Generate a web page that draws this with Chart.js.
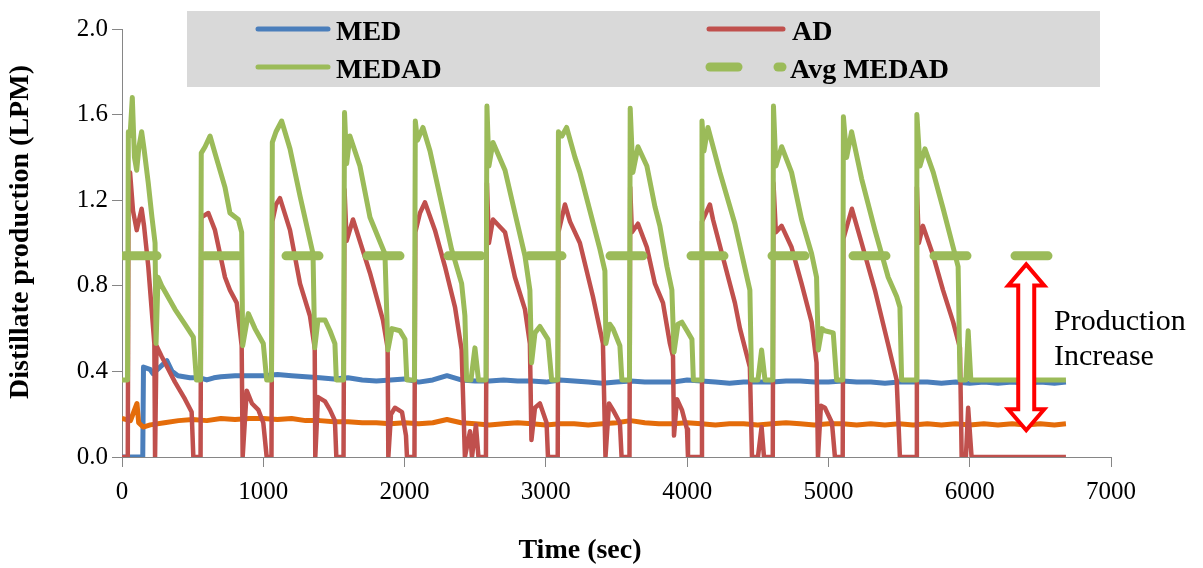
<!DOCTYPE html>
<html>
<head>
<meta charset="utf-8">
<script src="https://cdn.jsdelivr.net/npm/chart.js@4.4.1/dist/chart.umd.min.js"></script>
<style>
  body { margin: 0; background: #fff; }
  canvas { display: block; }
</style>
</head>
<body>
<canvas id="prodChart" width="1203" height="568"></canvas>
<script>
// time (sec), distillate (LPM) pairs
const medPts = [
  [0,0],[147,0],[152,0.42],[198,0.41],[219,0.39],[269,0.42],[318,0.45],[354,0.40],[396,0.38],[481,0.37],[552,0.37],
  [600,0.36],[650,0.37],[700,0.375],[800,0.38],[900,0.38],[1000,0.38],[1100,0.385],[1200,0.38],[1300,0.375],[1400,0.37],
  [1500,0.365],[1600,0.37],[1700,0.36],[1800,0.355],[1900,0.36],[2000,0.365],[2100,0.35],[2200,0.36],[2300,0.38],[2400,0.36],
  [2500,0.355],[2600,0.355],[2700,0.36],[2800,0.355],[2900,0.355],[3000,0.35],[3100,0.36],[3200,0.355],[3300,0.35],[3400,0.345],
  [3500,0.35],[3600,0.355],[3700,0.35],[3800,0.35],[3900,0.35],[4000,0.36],[4100,0.355],[4200,0.35],[4300,0.345],[4400,0.35],
  [4500,0.35],[4600,0.35],[4700,0.355],[4800,0.355],[4900,0.35],[5000,0.35],[5100,0.355],[5200,0.35],[5300,0.35],[5400,0.345],
  [5500,0.35],[5600,0.35],[5700,0.35],[5800,0.345],[5900,0.35],[6000,0.345],[6100,0.35],[6200,0.345],[6300,0.35],[6400,0.345],
  [6500,0.35],[6600,0.345],[6681,0.35]
];

const adPts = [
  [0,0],[41,0],[46,1.20],[57,1.33],[78,1.15],[104,1.06],[139,1.16],[156,1.08],[186,0.89],[229,0.53],[234,0],[244,0.52],[281,0.47],[375,0.35],[446,0.27],[493,0.21],[505,0],[556,0],
  [561,1.12],[611,1.14],[658,1.06],[729,0.84],[764,0.78],[812,0.72],[847,0.52],[854,0],[883,0.31],[920,0.25],[965,0.22],[1000,0.16],[1024,0],[1058,0],
  [1064,1.10],[1090,1.18],[1118,1.21],[1189,1.06],[1260,0.81],[1330,0.66],[1364,0.51],[1368,0],[1387,0.28],[1437,0.26],[1472,0.22],[1507,0.17],[1517,0],[1568,0],
  [1575,1.25],[1590,1.01],[1635,1.11],[1755,0.86],[1847,0.64],[1880,0.51],[1885,0],[1904,0.20],[1932,0.23],[1982,0.21],[2010,0.10],[2017,0],[2070,0],
  [2076,1.05],[2109,1.14],[2144,1.19],[2215,1.06],[2286,0.89],[2357,0.70],[2404,0.50],[2427,0],[2463,0.12],[2477,0],[2505,0.15],[2523,0],[2576,0],
  [2583,1.28],[2597,1.00],[2626,1.11],[2711,1.05],[2781,0.84],[2852,0.69],[2887,0.53],[2898,0.08],[2923,0.23],[2958,0.25],[3005,0.16],[3015,0],[3084,0],
  [3089,1.05],[3135,1.18],[3171,1.10],[3241,1.00],[3333,0.75],[3404,0.53],[3422,0],[3447,0.25],[3475,0.22],[3524,0.16],[3536,0],[3592,0],
  [3597,1.26],[3609,1.05],[3652,1.09],[3715,0.98],[3772,0.81],[3829,0.72],[3878,0.53],[3900,0.47],[3907,0.10],[3928,0.27],[3963,0.22],[3999,0.13],[4006,0],[4099,0],
  [4105,1.10],[4161,1.18],[4183,1.11],[4338,0.72],[4374,0.60],[4444,0.42],[4459,0],[4501,0],[4527,0.14],[4544,0],[4606,0],
  [4611,1.28],[4628,1.05],[4669,1.08],[4739,0.98],[4810,0.81],[4881,0.63],[4916,0.44],[4926,0],[4947,0.24],[4975,0.23],[5025,0.16],[5046,0],[5101,0],
  [5106,1.02],[5166,1.16],[5235,1.00],[5329,0.78],[5421,0.53],[5483,0.36],[5506,0],[5620,0],
  [5626,1.26],[5640,1.00],[5669,1.08],[5742,0.94],[5811,0.78],[5883,0.63],[5931,0.51],[5943,0],[5973,0],[5989,0.23],[6013,0],[6681,0]
];

const medadPts = [
  [0,0.36],[39,0.36],[45,1.52],[57,1.50],[73,1.68],[88,1.40],[104,1.34],[120,1.45],[139,1.52],[156,1.44],[186,1.28],[212,1.12],[234,1.00],[241,0.53],[255,0.84],[281,0.80],[375,0.69],[446,0.62],[505,0.56],[527,0.36],
  [556,0.36],[561,1.42],[588,1.45],[623,1.50],[658,1.42],[729,1.26],[764,1.14],[823,1.11],[847,1.05],[854,0.52],[894,0.67],[941,0.60],[1000,0.53],[1024,0.36],
  [1058,0.36],[1064,1.47],[1090,1.52],[1130,1.57],[1189,1.44],[1260,1.22],[1352,0.95],[1364,0.51],[1387,0.64],[1437,0.64],[1472,0.59],[1507,0.53],[1517,0.36],
  [1568,0.36],[1575,1.61],[1590,1.37],[1613,1.50],[1684,1.36],[1755,1.12],[1861,0.95],[1882,0.50],[1911,0.60],[1967,0.59],[2003,0.55],[2016,0.36],
  [2070,0.36],[2076,1.57],[2091,1.48],[2130,1.54],[2180,1.43],[2250,1.22],[2333,0.97],[2404,0.81],[2427,0.66],[2439,0.36],[2470,0.36],[2498,0.51],[2523,0.36],
  [2576,0.36],[2583,1.64],[2597,1.36],[2626,1.47],[2711,1.34],[2781,1.14],[2852,0.94],[2887,0.78],[2899,0.44],[2923,0.58],[2958,0.61],[3015,0.55],[3041,0.36],
  [3084,0.36],[3089,1.52],[3114,1.50],[3147,1.54],[3206,1.40],[3241,1.33],[3312,1.15],[3383,0.97],[3418,0.87],[3425,0.53],[3453,0.62],[3475,0.60],[3524,0.52],[3538,0.36],
  [3592,0.36],[3597,1.63],[3616,1.33],[3652,1.45],[3715,1.36],[3772,1.17],[3807,1.08],[3857,0.89],[3892,0.78],[3907,0.49],[3935,0.62],[3963,0.63],[3999,0.59],[4034,0.55],[4044,0.36],
  [4099,0.36],[4105,1.57],[4119,1.43],[4147,1.54],[4232,1.33],[4338,1.09],[4444,0.78],[4456,0.36],[4501,0.36],[4527,0.50],[4551,0.36],
  [4606,0.36],[4611,1.64],[4628,1.36],[4669,1.45],[4739,1.33],[4810,1.11],[4881,0.95],[4916,0.84],[4928,0.50],[4954,0.60],[4975,0.59],[5034,0.58],[5058,0.36],
  [5101,0.36],[5106,1.59],[5129,1.40],[5164,1.52],[5235,1.30],[5329,1.06],[5423,0.84],[5483,0.75],[5506,0.70],[5518,0.36],
  [5620,0.36],[5626,1.60],[5648,1.36],[5683,1.44],[5742,1.33],[5812,1.16],[5883,0.98],[5918,0.89],[5931,0.36],[5973,0.36],[5989,0.59],[6008,0.36],[6681,0.36]
];

const avgMedadPts = [[0,0.94],[6681,0.94]];

// unlabelled orange trace (not in the legend)
const otherPts = [
  [0,0.18],[60,0.17],[106,0.25],[118,0.16],[150,0.14],[200,0.15],[300,0.16],[400,0.17],[500,0.175],[600,0.17],
  [700,0.18],[800,0.175],[900,0.18],[1000,0.18],[1100,0.175],[1200,0.18],[1300,0.17],[1400,0.17],[1500,0.165],[1600,0.165],
  [1700,0.16],[1800,0.16],[1900,0.155],[2000,0.16],[2100,0.155],[2200,0.16],[2300,0.175],[2400,0.16],[2500,0.155],[2600,0.15],
  [2700,0.155],[2800,0.16],[2900,0.155],[3000,0.15],[3100,0.155],[3200,0.155],[3300,0.15],[3400,0.155],[3500,0.16],[3600,0.17],
  [3700,0.16],[3800,0.155],[3900,0.155],[4000,0.16],[4100,0.155],[4200,0.15],[4300,0.155],[4400,0.155],[4500,0.15],[4600,0.155],
  [4700,0.16],[4800,0.155],[4900,0.15],[5000,0.155],[5100,0.155],[5200,0.15],[5300,0.155],[5400,0.15],[5500,0.155],[5600,0.15],
  [5700,0.155],[5800,0.15],[5900,0.155],[6000,0.15],[6100,0.155],[6200,0.15],[6300,0.155],[6400,0.15],[6500,0.155],[6600,0.15],[6681,0.155]
];

const xTicks = [0, 1000, 2000, 3000, 4000, 5000, 6000, 7000];
const yTicks = [0.0, 0.4, 0.8, 1.2, 1.6, 2.0];

const legendItems = ['MED', 'AD', 'MEDAD', 'Avg MEDAD'];
const arrowAt = 6400;          // sec
const arrowRange = [0.90, 0.125]; // LPM, top and bottom tips
const noteLines = ['Production', 'Increase'];

const BLUE = '#4A7EBB', RED = '#C0504D', GREEN = '#9BBB59', ORANGE = '#E46C0A';
const SERIF = "'Liberation Serif', 'Times New Roman', serif";

function toXY(pts) {
    return pts.map(p => ({ x: p[0], y: p[1] }));
}

// legend box, axis titles and the arrow note
const overlay = {
    id: 'overlay',
    afterDraw(chart) {
        const ctx = chart.ctx;
        const xs = chart.scales.x, ys = chart.scales.y;
        ctx.save();

        // legend
        ctx.fillStyle = '#D9D9D9';
        ctx.fillRect(187, 11, 913, 76);
        ctx.lineCap = 'round';
        ctx.lineWidth = 5;
        ctx.strokeStyle = BLUE;
        ctx.beginPath(); ctx.moveTo(258, 29); ctx.lineTo(328, 29); ctx.stroke();
        ctx.strokeStyle = GREEN;
        ctx.beginPath(); ctx.moveTo(258, 67); ctx.lineTo(328, 67); ctx.stroke();
        ctx.strokeStyle = RED;
        ctx.beginPath(); ctx.moveTo(709, 29); ctx.lineTo(783, 29); ctx.stroke();
        ctx.strokeStyle = GREEN;
        ctx.lineWidth = 9;
        ctx.beginPath(); ctx.moveTo(710, 67); ctx.lineTo(738, 67); ctx.stroke();
        ctx.beginPath(); ctx.moveTo(778, 67); ctx.lineTo(782, 67); ctx.stroke();

        ctx.fillStyle = '#000';
        ctx.font = 'bold 28px ' + SERIF;
        ctx.textAlign = 'left';
        ctx.textBaseline = 'alphabetic';
        ctx.fillText(legendItems[0], 336, 40);
        ctx.fillText(legendItems[1], 792, 40);
        ctx.fillText(legendItems[2], 336, 78);
        ctx.fillText(legendItems[3], 790, 78);

        // axis titles
        ctx.textAlign = 'center';
        ctx.textBaseline = 'middle';
        ctx.fillText('Time (sec)', 580, 551);
        ctx.save();
        ctx.translate(21, 232);
        ctx.rotate(-Math.PI / 2);
        ctx.fillText('Distillate production (LPM)', 0, 0);
        ctx.restore();

        // double arrow
        const cx = xs.getPixelForValue(arrowAt);
        const yt = ys.getPixelForValue(arrowRange[0]);
        const yb = ys.getPixelForValue(arrowRange[1]);
        const hw = 18, sw = 8, hh = 21;
        ctx.beginPath();
        ctx.moveTo(cx, yt);
        ctx.lineTo(cx + hw, yt + hh);
        ctx.lineTo(cx + sw, yt + hh);
        ctx.lineTo(cx + sw, yb - hh);
        ctx.lineTo(cx + hw, yb - hh);
        ctx.lineTo(cx, yb);
        ctx.lineTo(cx - hw, yb - hh);
        ctx.lineTo(cx - sw, yb - hh);
        ctx.lineTo(cx - sw, yt + hh);
        ctx.lineTo(cx - hw, yt + hh);
        ctx.closePath();
        ctx.fillStyle = '#fff';
        ctx.fill();
        ctx.lineJoin = 'miter';
        ctx.lineWidth = 4;
        ctx.strokeStyle = '#FF0000';
        ctx.stroke();

        ctx.fillStyle = '#000';
        ctx.font = '30px ' + SERIF;
        ctx.textAlign = 'left';
        ctx.textBaseline = 'alphabetic';
        ctx.fillText(noteLines[0], 1054, 330);
        ctx.fillText(noteLines[1], 1054, 365);
        ctx.restore();
    }
};

const lineBase = { pointRadius: 0, tension: 0, fill: false, borderJoinStyle: 'round' };

new Chart(document.getElementById('prodChart').getContext('2d'), {
    type: 'line',
    data: {
        datasets: [
            Object.assign({}, lineBase, { label: 'Avg MEDAD', data: toXY(avgMedadPts), borderColor: GREEN, borderWidth: 9, borderDash: [33, 48], borderDashOffset: -2, borderCapStyle: 'round', order: 0 }),
            Object.assign({}, lineBase, { label: 'MEDAD', data: toXY(medadPts), borderColor: GREEN, borderWidth: 5, order: 1 }),
            Object.assign({}, lineBase, { label: 'AD', data: toXY(adPts), borderColor: RED, borderWidth: 4.5, order: 2 }),
            Object.assign({}, lineBase, { label: '', data: toXY(otherPts), borderColor: ORANGE, borderWidth: 5, order: 3 }),
            Object.assign({}, lineBase, { label: 'MED', data: toXY(medPts), borderColor: BLUE, borderWidth: 5, order: 4 })
        ]
    },
    options: {
        responsive: false,
        devicePixelRatio: 1,
        animation: false,
        layout: { padding: { left: 0, top: 29, right: 92, bottom: 0 } },
        plugins: {
            legend: { display: false },
            tooltip: { enabled: false }
        },
        scales: {
            x: {
                type: 'linear',
                min: 0,
                max: 7000,
                afterFit: s => { s.height = 111; },
                afterBuildTicks: s => { s.ticks = xTicks.map(v => ({ value: v })); },
                ticks: { color: '#000', font: { family: SERIF, size: 25 }, padding: 10, maxRotation: 0, callback: v => String(v) },
                grid: { drawOnChartArea: false, drawTicks: true, tickLength: 10, color: '#868686' },
                border: { color: '#868686', width: 1 }
            },
            y: {
                min: 0,
                max: 2,
                afterFit: s => { s.width = 122; },
                afterBuildTicks: s => { s.ticks = yTicks.map(v => ({ value: v })); },
                ticks: { color: '#000', font: { family: SERIF, size: 25 }, padding: 4, callback: v => v.toFixed(1) },
                grid: { drawOnChartArea: false, drawTicks: true, tickLength: 10, color: '#868686' },
                border: { color: '#868686', width: 1 }
            }
        }
    },
    plugins: [overlay]
});
</script>
</body>
</html>
